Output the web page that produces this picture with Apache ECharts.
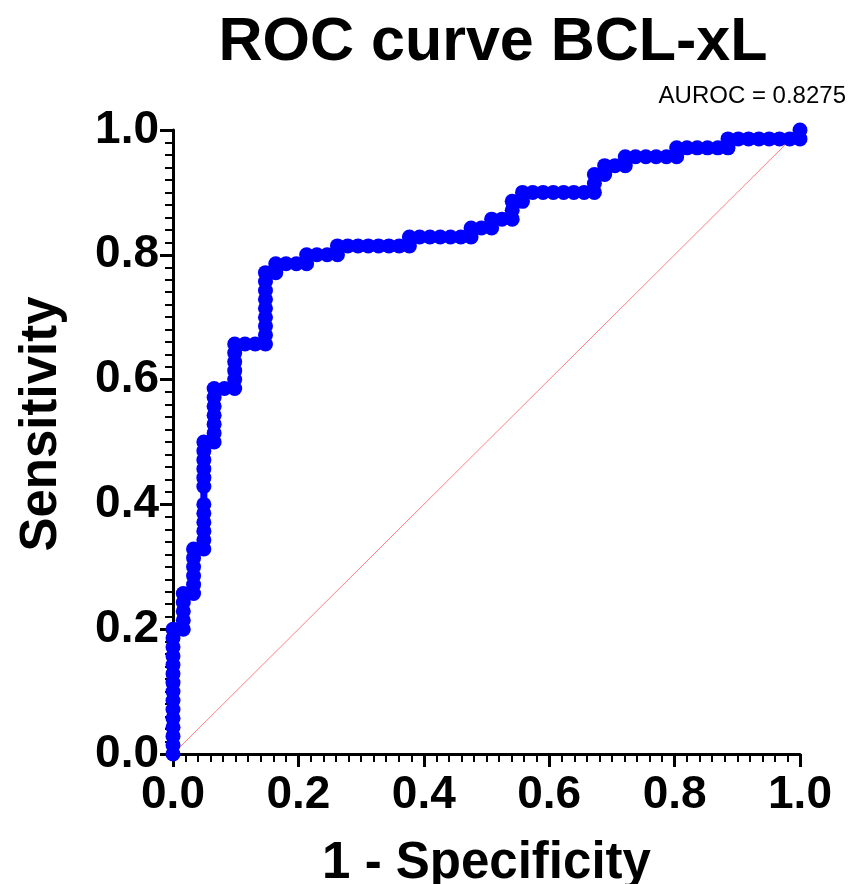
<!DOCTYPE html>
<html>
<head>
<meta charset="utf-8">
<script src="https://cdn.jsdelivr.net/npm/echarts@6/dist/echarts.min.js"></script>
<style>
html,body{margin:0;padding:0;background:#fff;}
#chart{width:849px;height:884px;}
</style>
</head>
<body>
<div id="chart"></div>
<script>
// ROC curve points (1 - Specificity, Sensitivity)
var fpr = [
  0,0,0,0,0,0,0,0,0,0,0,0,0,0,0,
  0.0164,0.0164,0.0164,0.0164,0.0164,
  0.0328,0.0328,0.0328,0.0328,0.0328,0.0328,
  0.0492,0.0492,0.0492,0.0492,0.0492,0.0492,0.0492,0.0492,0.0492,0.0492,0.0492,0.0492,
  0.0656,0.0656,0.0656,0.0656,0.0656,0.0656,0.0656,
  0.082,0.0984,0.0984,0.0984,0.0984,0.0984,0.0984,
  0.1148,0.1311,0.1475,0.1475,0.1475,0.1475,0.1475,0.1475,0.1475,0.1475,0.1475,
  0.1639,0.1639,0.1803,0.1967,0.2131,0.2131,0.2295,0.2459,0.2623,0.2623,
  0.2787,0.2951,0.3115,0.3279,0.3443,0.3607,0.377,0.377,
  0.3934,0.4098,0.4262,0.4426,0.459,0.4754,0.4754,
  0.4918,0.5082,0.5082,0.5246,0.541,0.541,0.541,0.5574,0.5574,
  0.5738,0.5902,0.6066,0.623,0.6393,0.6557,0.6721,0.6721,0.6721,
  0.6885,0.6885,0.7049,0.7213,0.7213,
  0.7377,0.7541,0.7705,0.7869,0.8033,0.8033,
  0.8197,0.8361,0.8525,0.8689,0.8852,0.8852,
  0.9016,0.918,0.9344,0.9508,0.9672,0.9836,1,1
];
var tpr = [
  0,0.0143,0.0286,0.0429,0.0571,0.0714,0.0857,0.1,0.1143,0.1286,0.1429,0.1571,0.1714,0.1857,0.2,
  0.2,0.2143,0.2286,0.2429,0.2571,
  0.2571,0.2714,0.2857,0.3,0.3143,0.3286,
  0.3286,0.3429,0.3571,0.3714,0.3857,0.4,0.4286,0.4429,0.4571,0.4714,0.4857,0.5,
  0.5,0.5143,0.5286,0.5429,0.5571,0.5714,0.5857,
  0.5857,0.5857,0.6,0.6143,0.6286,0.6429,0.6571,
  0.6571,0.6571,0.6571,0.6714,0.6857,0.7,0.7143,0.7286,0.7429,0.7571,0.7714,
  0.7714,0.7857,0.7857,0.7857,0.7857,0.8,0.8,0.8,0.8,0.8143,
  0.8143,0.8143,0.8143,0.8143,0.8143,0.8143,0.8143,0.8286,
  0.8286,0.8286,0.8286,0.8286,0.8286,0.8286,0.8429,
  0.8429,0.8429,0.8571,0.8571,0.8571,0.8714,0.8857,0.8857,0.9,
  0.9,0.9,0.9,0.9,0.9,0.9,0.9,0.9143,0.9286,
  0.9286,0.9429,0.9429,0.9429,0.9571,
  0.9571,0.9571,0.9571,0.9571,0.9571,0.9714,
  0.9714,0.9714,0.9714,0.9714,0.9714,0.9857,
  0.9857,0.9857,0.9857,0.9857,0.9857,0.9857,0.9857,1
];
// reference (chance) line
var refX = [0, 1];
var refY = [0, 1];
var titleText = 'ROC curve BCL-xL';
var aurocText = 'AUROC = 0.8275';
var xName = '1 - Specificity';
var yName = 'Sensitivity';

var FONT = "'Liberation Sans', Arial, Helvetica, sans-serif";
var chart = echarts.init(document.getElementById('chart'), null, {renderer: 'canvas'});

function axisCommon() {
  return {
    type: 'value', min: 0, max: 1, interval: 0.2,
    axisLine: {show: true, lineStyle: {color: '#000', width: 3}},
    axisTick: {show: true, length: 13, lineStyle: {color: '#000', width: 3}},
    minorTick: {show: true, splitNumber: 10, length: 8, lineStyle: {color: '#000', width: 2}},
    splitLine: {show: false},
    minorSplitLine: {show: false},
    axisLabel: {
      color: '#000', fontFamily: FONT, fontWeight: 'bold', fontSize: 46,
      formatter: function (v) { return v.toFixed(1); }
    },
    nameLocation: 'middle',
    nameTextStyle: {color: '#000', fontFamily: FONT, fontWeight: 'bold', fontSize: 51}
  };
}

var xAxis = axisCommon();
xAxis.name = xName;
xAxis.nameGap = 84;
xAxis.axisLabel.margin = 18;

var yAxis = axisCommon();
yAxis.axisLabel.margin = 14;

chart.setOption({
  animation: false,
  backgroundColor: '#fff',
  title: {
    text: titleText, left: 488, top: 8, textAlign: 'center',
    textStyle: {color: '#000', fontFamily: FONT, fontWeight: 'bold', fontSize: 61}
  },
  graphic: [{
    type: 'text', right: 3, top: 84,
    style: {text: aurocText, fill: '#000', font: '24px ' + FONT}
  }, {
    type: 'text', x: 42, y: 424, rotation: Math.PI / 2,
    style: {text: yName, fill: '#000', font: 'bold 51px ' + FONT, align: 'center', verticalAlign: 'middle'}
  }],
  grid: {left: 173, right: 49, top: 130, bottom: 130, containLabel: false, outerBoundsMode: 'none'},
  xAxis: xAxis,
  yAxis: yAxis,
  series: [
    {
      type: 'line', data: refX.map(function (x, i) { return [x, refY[i]]; }),
      symbol: 'none', lineStyle: {color: '#ff8080', width: 1}, z: 1, silent: true
    },
    {
      type: 'line', data: fpr.map(function (x, i) { return [x, tpr[i]]; }),
      symbol: 'circle', symbolSize: 15, showSymbol: true,
      itemStyle: {color: '#0000ff'},
      lineStyle: {color: '#0000ff', width: 7}, z: 2, clip: false
    }
  ]
});
</script>
</body>
</html>
